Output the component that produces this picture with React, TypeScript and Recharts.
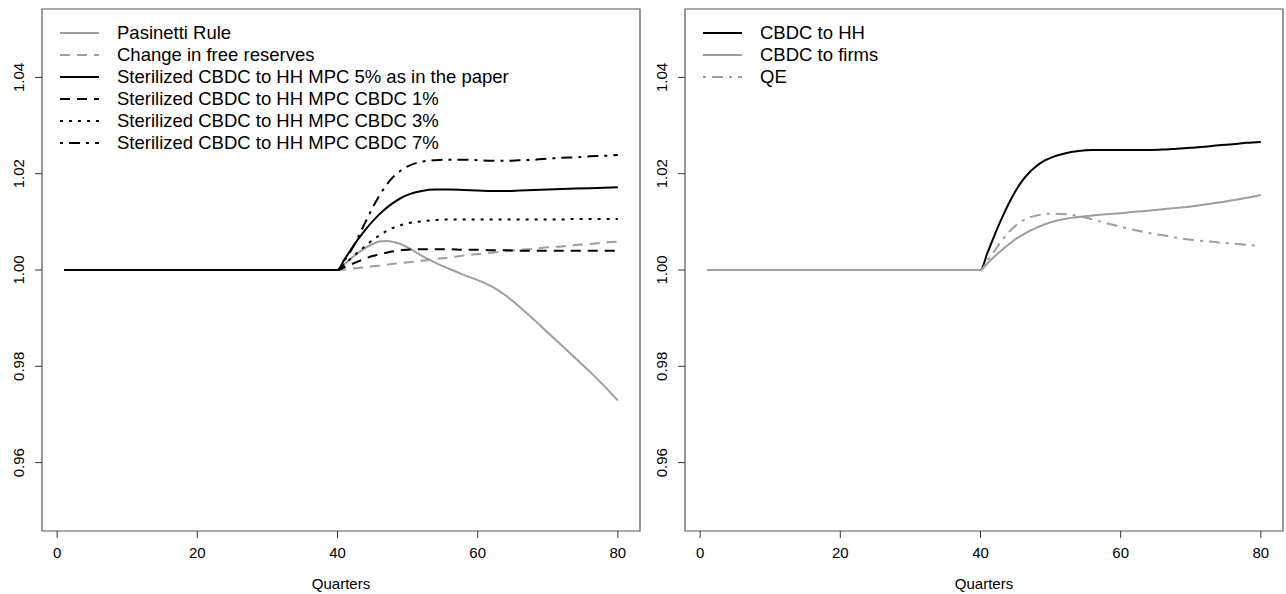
import React from 'react';
import { LineChart, Line, XAxis, YAxis, Legend, ReferenceArea } from 'recharts';

const quarters = [1, 40, 41, 42, 43, 44, 45, 46, 47, 48, 49, 50, 52, 54, 56, 58, 60, 62, 64, 66, 68, 70, 72, 74, 76, 78, 80];

// left panel
const pasinetti = [1, 1, 1.0012, 1.0025, 1.0036, 1.0046, 1.0054, 1.0059, 1.006, 1.0058, 1.0054, 1.0047, 1.003, 1.0015, 1.0002, 0.999, 0.9979, 0.9966, 0.9947, 0.9923, 0.9897, 0.987, 0.9843, 0.9816, 0.9789, 0.976, 0.9729];
const freeReserves = [1, 1, 1.0001, 1.0003, 1.0004, 1.0006, 1.0008, 1.0009, 1.0011, 1.0013, 1.0014, 1.0016, 1.0019, 1.0023, 1.0026, 1.003, 1.0033, 1.0036, 1.0039, 1.0042, 1.0044, 1.0047, 1.0049, 1.0052, 1.0054, 1.0057, 1.0059];
const mpc5 = [1, 1, 1.0022, 1.0044, 1.0065, 1.0084, 1.0101, 1.0116, 1.0129, 1.014, 1.0149, 1.0156, 1.0164, 1.0167, 1.0167, 1.0166, 1.0165, 1.0164, 1.0164, 1.0165, 1.0166, 1.0167, 1.0168, 1.0169, 1.017, 1.0171, 1.0172];
const mpc1 = [1, 1, 1.0006, 1.0012, 1.0018, 1.0024, 1.0029, 1.0033, 1.0036, 1.0039, 1.0041, 1.0042, 1.0043, 1.0043, 1.0043, 1.0042, 1.0042, 1.0041, 1.0041, 1.004, 1.004, 1.004, 1.004, 1.004, 1.004, 1.004, 1.004];
const mpc3 = [1, 1, 1.0012, 1.0025, 1.0038, 1.005, 1.0062, 1.0072, 1.0081, 1.0088, 1.0093, 1.0097, 1.0101, 1.0104, 1.0105, 1.0105, 1.0105, 1.0105, 1.0105, 1.0105, 1.0105, 1.0105, 1.0105, 1.0106, 1.0106, 1.0106, 1.0106];
const mpc7 = [1, 1, 1.002, 1.0042, 1.007, 1.01, 1.0129, 1.0155, 1.0177, 1.0194, 1.0206, 1.0215, 1.0225, 1.0228, 1.0229, 1.0229, 1.0228, 1.0227, 1.0227, 1.0228, 1.0229, 1.0231, 1.0233, 1.0234, 1.0236, 1.0237, 1.0239];

// right panel
const cbdcHH = [1, 1, 1.0036, 1.0072, 1.0106, 1.0137, 1.0164, 1.0186, 1.0203, 1.0216, 1.0226, 1.0233, 1.0242, 1.0247, 1.0249, 1.0249, 1.0249, 1.0249, 1.0249, 1.025, 1.0252, 1.0254, 1.0256, 1.0259, 1.0261, 1.0264, 1.0266];
const cbdcFirms = [1, 1, 1.0014, 1.0028, 1.0041, 1.0053, 1.0064, 1.0073, 1.0081, 1.0088, 1.0094, 1.0099, 1.0106, 1.011, 1.0113, 1.0116, 1.0118, 1.0121, 1.0123, 1.0126, 1.0129, 1.0132, 1.0136, 1.014, 1.0145, 1.015, 1.0156];
const qe = [1, 1, 1.002, 1.004, 1.006, 1.0078, 1.0092, 1.0102, 1.0109, 1.0113, 1.0116, 1.0117, 1.0116, 1.0112, 1.0105, 1.0097, 1.009, 1.0083, 1.0077, 1.0072, 1.0067, 1.0063, 1.006, 1.0057, 1.0055, 1.0052, 1.005];

const xTicks = [0, 20, 40, 60, 80];
const yTicks = [0.96, 0.98, 1.0, 1.02, 1.04];

const GRAY = '#9e9e9e';
const BLACK = '#000000';
const FONT = '"Liberation Sans", Arial, Helvetica, sans-serif';

const SOLID = undefined;
const DASHED = '10 7';
const DOTTED = '3 6';
const DOTDASH = '3 6 11 6';

type Series = { key: string, name: string, values: number[], color: string, dash?: string };

const leftSeries: Series[] = [
  { key: 'pasinetti', name: 'Pasinetti Rule', values: pasinetti, color: GRAY, dash: SOLID },
  { key: 'free', name: 'Change in free reserves', values: freeReserves, color: GRAY, dash: DASHED },
  { key: 'mpc5', name: 'Sterilized CBDC to HH MPC 5% as in the paper', values: mpc5, color: BLACK, dash: SOLID },
  { key: 'mpc1', name: 'Sterilized CBDC to HH MPC CBDC 1%', values: mpc1, color: BLACK, dash: DASHED },
  { key: 'mpc3', name: 'Sterilized CBDC to HH MPC CBDC 3%', values: mpc3, color: BLACK, dash: DOTTED },
  { key: 'mpc7', name: 'Sterilized CBDC to HH MPC CBDC 7%', values: mpc7, color: BLACK, dash: DOTDASH },
];

const rightSeries: Series[] = [
  { key: 'hh', name: 'CBDC to HH', values: cbdcHH, color: BLACK, dash: SOLID },
  { key: 'firms', name: 'CBDC to firms', values: cbdcFirms, color: GRAY, dash: SOLID },
  { key: 'qe', name: 'QE', values: qe, color: GRAY, dash: DOTDASH },
];

// R style axis extents (4% padding)
const X_DOMAIN = [-2.16, 83.16];
const Y_DOMAIN = [0.9458, 1.0542];

function buildRows(series: Series[]) {
  return quarters.map((q, i) => {
    const r: { [k: string]: number } = { q };
    series.forEach((s) => { r[s.key] = s.values[i]; });
    return r;
  });
}

function YTick(props: any) {
  const { x, y, payload } = props;
  return (
    <text x={x} y={y} transform={`rotate(-90 ${x} ${y})`} textAnchor="middle" fontSize={15} fontFamily={FONT} fill="#000">
      {Number(payload.value).toFixed(2)}
    </text>
  );
}

function makeLegend(series: Series[]) {
  return () => (
    <div style={{ fontFamily: FONT, fontSize: 18.5, color: '#000' }}>
      {series.map((s) => (
        <div key={s.key} style={{ display: 'flex', alignItems: 'center', height: 22, whiteSpace: 'nowrap' }}>
          <svg width={57} height={22} style={{ flex: 'none' }}>
            <line x1={0} y1={11} x2={39} y2={11} stroke={s.color} strokeWidth={2} strokeDasharray={s.dash} />
          </svg>
          <span>{s.name}</span>
        </div>
      ))}
    </div>
  );
}

function Panel(props: { series: Series[] }) {
  const rows = buildRows(props.series);
  return (
    <LineChart width={643} height={594} data={rows} margin={{ top: 9, right: 3, bottom: 0, left: 0 }}>
      <XAxis
        dataKey="q"
        type="number"
        domain={X_DOMAIN}
        ticks={xTicks}
        allowDataOverflow={true}
        height={63}
        axisLine={false}
        tickLine={{ stroke: '#333' }}
        tickSize={7}
        tickMargin={9}
        tick={{ fontSize: 15, fontFamily: FONT, fill: '#000' }}
        label={{ value: 'Quarters', position: 'insideBottom', offset: 5, fontSize: 15, fontFamily: FONT, fill: '#000' }}
      />
      <YAxis
        type="number"
        domain={Y_DOMAIN}
        ticks={yTicks}
        allowDataOverflow={true}
        width={42}
        axisLine={false}
        tickLine={{ stroke: '#333' }}
        tickSize={7}
        tickMargin={11}
        tick={<YTick />}
      />
      <ReferenceArea x1={X_DOMAIN[0]} x2={X_DOMAIN[1]} y1={Y_DOMAIN[0]} y2={Y_DOMAIN[1]} fill="none" stroke="#555" strokeWidth={1.2} ifOverflow="visible" />
      <Legend
        layout="vertical"
        align="center"
        verticalAlign="middle"
        wrapperStyle={{ left: 60, top: 22, width: 'auto' }}
        content={makeLegend(props.series)}
      />
      {props.series.map((s) => (
        <Line
          key={s.key}
          type="monotone"
          dataKey={s.key}
          name={s.name}
          stroke={s.color}
          strokeWidth={2}
          strokeDasharray={s.dash}
          dot={false}
          activeDot={false}
          isAnimationActive={false}
        />
      ))}
    </LineChart>
  );
}

export default function App() {
  return (
    <div style={{ position: 'absolute', left: 0, top: 0, width: 1286, height: 594, display: 'flex', background: '#fff' }}>
      <Panel series={leftSeries} />
      <Panel series={rightSeries} />
    </div>
  );
}
